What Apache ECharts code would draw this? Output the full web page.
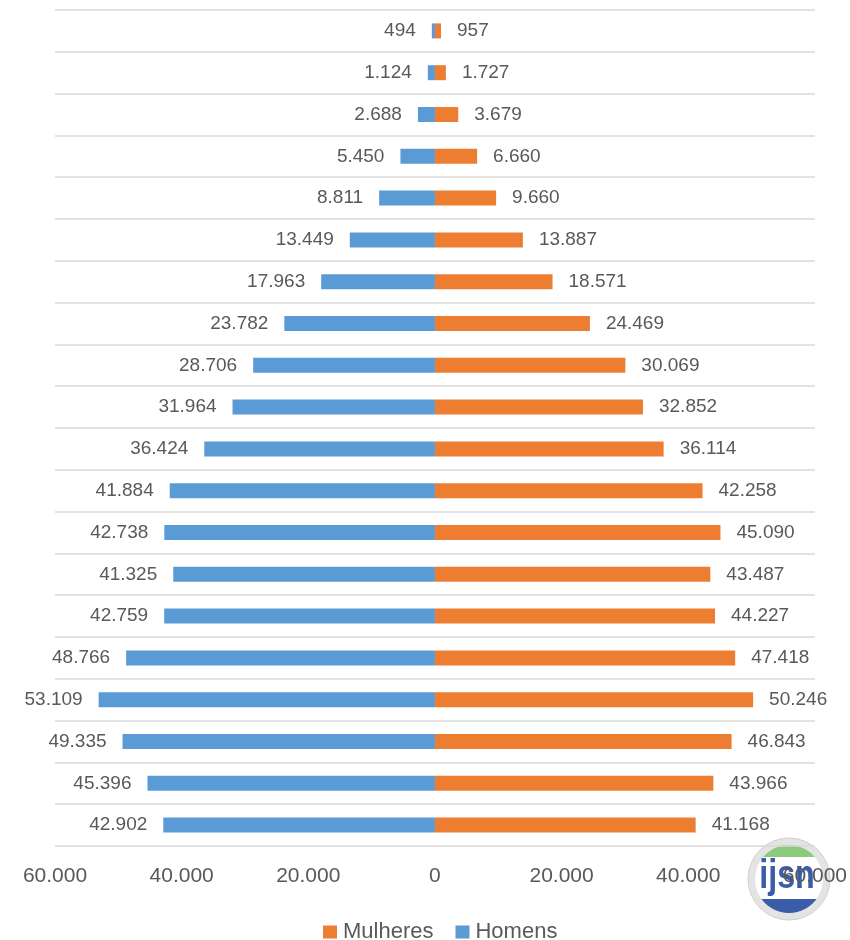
<!DOCTYPE html>
<html>
<head>
<meta charset="utf-8">
<script src="https://cdn.jsdelivr.net/npm/echarts@6/dist/echarts.min.js"></script>
<style>html,body{margin:0;padding:0;background:#fff}#c{width:850px;height:940px}</style>
</head>
<body>
<div id="c"></div>
<script>
// Age groups, bottom (youngest) to top (oldest)
var categories = ['0-4','5-9','10-14','15-19','20-24','25-29','30-34','35-39','40-44','45-49','50-54','55-59','60-64','65-69','70-74','75-79','80-84','85-89','90-94','95+'];
var homens   = [42902,45396,49335,53109,48766,42759,41325,42738,41884,36424,31964,28706,23782,17963,13449,8811,5450,2688,1124,494];
var mulheres = [41168,43966,46843,50246,47418,44227,43487,45090,42258,36114,32852,30069,24469,18571,13887,9660,6660,3679,1727,957];
var xTicks = [-60000,-40000,-20000,0,20000,40000,60000];

function fmt(v){ return Math.abs(v).toString().replace(/\B(?=(\d{3})+(?!\d))/g,'.'); }

var FONT = 'Liberation Sans';
var TXT = '#595959';

// logo decoration
var cx = 789, cy = 879;
function seg(r, yFrom, yTo){
  var pts = [];
  var n = 40;
  for (var i=0;i<=n;i++){
    var y = yFrom + (yTo - yFrom)*i/n;
    var x = Math.sqrt(Math.max(0, r*r - y*y));
    pts.push([cx + x, cy + y]);
  }
  for (var j=n;j>=0;j--){
    var y2 = yFrom + (yTo - yFrom)*j/n;
    var x2 = Math.sqrt(Math.max(0, r*r - y2*y2));
    pts.push([cx - x2, cy + y2]);
  }
  return pts;
}

var chart = echarts.init(document.getElementById('c'), null, {renderer:'canvas'});
chart.setOption({
  animation:false,
  backgroundColor:'#fff',
  grid:{left:55, right:34, top:10, bottom:94, containLabel:false},
  legend:{
    data:['Mulheres','Homens'],
    top:916, left:318,
    icon:'rect', itemWidth:14, itemHeight:13, itemGap:22,
    textStyle:{fontFamily:FONT, fontSize:22, color:TXT, padding:[0,0,0,1]}
  },
  xAxis:{
    type:'value', min:-60000, max:60000, interval:20000,
    axisLine:{show:false}, axisTick:{show:false}, splitLine:{show:false},
    axisLabel:{fontFamily:FONT, fontSize:21, color:TXT, margin:20, formatter:function(v){return fmt(v);} }
  },
  yAxis:{
    type:'category', data:categories,
    axisLine:{show:false}, axisTick:{show:false}, axisLabel:{show:false},
    splitLine:{show:true, lineStyle:{color:'#d9d9d9', width:1.5}}
  },
  series:[
    {
      name:'Homens', type:'bar', stack:'t', barWidth:15,
      itemStyle:{color:'#5b9bd5'},
      data: homens.map(function(v){return -v;}),
      label:{show:true, position:'left', distance:16, fontFamily:FONT, fontSize:19, color:TXT,
        formatter:function(p){return fmt(p.value);} }
    },
    {
      name:'Mulheres', type:'bar', stack:'t', barWidth:15,
      itemStyle:{color:'#ed7d31'},
      data: mulheres,
      label:{show:true, position:'right', distance:16, fontFamily:FONT, fontSize:19, color:TXT,
        formatter:function(p){return fmt(p.value);} }
    }
  ],
  graphic:[
    {type:'circle', z:-10, shape:{cx:cx, cy:cy, r:41}, style:{fill:'#e4e4e4', stroke:'#d0d0d0', lineWidth:1}},
    {type:'circle', z:-9, shape:{cx:cx, cy:cy, r:34}, style:{fill:'#ffffff'}},
    {type:'polygon', z:-8, shape:{points:seg(34,-34,-22)}, style:{fill:'#8dca7e'}},
    {type:'polygon', z:-8, shape:{points:seg(34,20,34)}, style:{fill:'#3b5ca8'}},
    {type:'text', z:-7, x:cx-2, y:cy-2, scaleX:0.95, scaleY:1.2, style:{text:'ijsn', fontFamily:FONT, fontWeight:'bold', fontSize:34, fill:'#3b5ca8', align:'center', verticalAlign:'middle'}}
  ]
});
</script>
</body>
</html>
